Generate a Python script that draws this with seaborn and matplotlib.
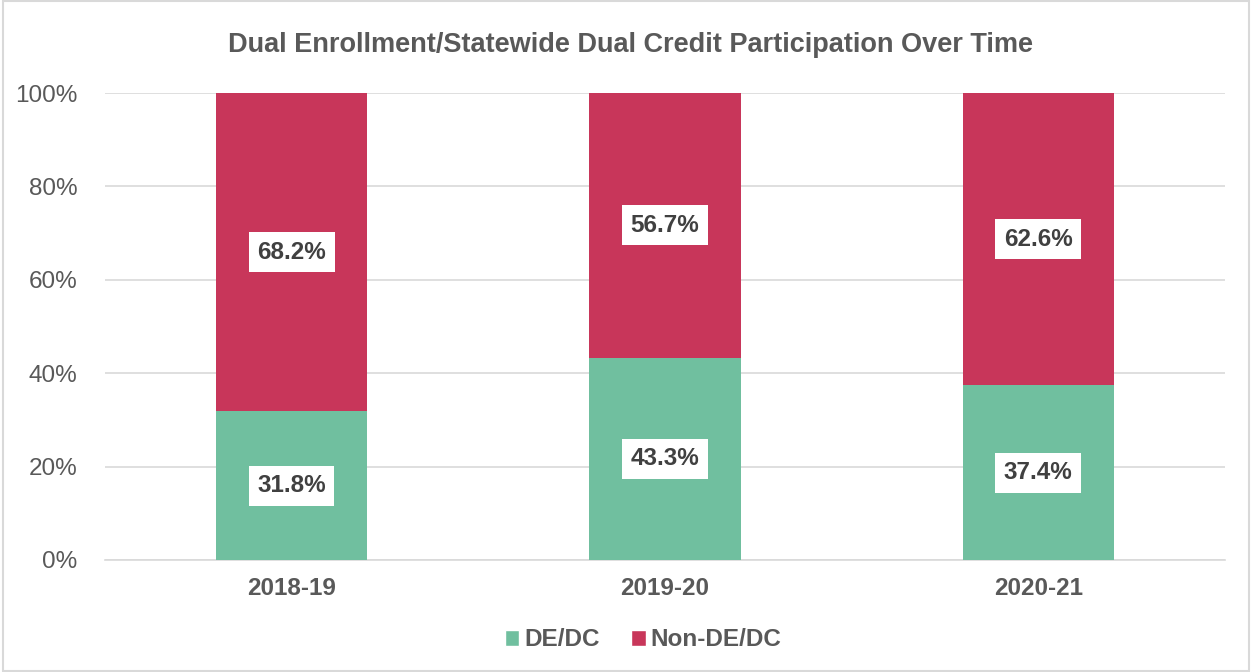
import matplotlib
matplotlib.use("Agg")
import matplotlib.pyplot as plt
import seaborn as sns
import pandas as pd
from matplotlib.patches import Patch, Rectangle

years = ["2018-19", "2019-20", "2020-21"]
de_dc = [31.8, 43.3, 37.4]
non_de_dc = [68.2, 56.7, 62.6]
series_names = ["DE/DC", "Non-DE/DC"]
y_ticks = [0, 20, 40, 60, 80, 100]

GREEN = "#70BF9F"
RED = "#C8365A"
TXT = "#595959"

sns.set_theme(style="white")
plt.rcParams['font.family'] = ['Liberation Sans', 'DejaVu Sans']

df = pd.DataFrame({"year": years, "de": de_dc, "non": non_de_dc})
df["total"] = df["de"] + df["non"]

fig = plt.figure(figsize=(12.52, 6.72), dpi=100)
ax = fig.add_axes([105/1252, 1-560/672, 1120/1252, 467/672])

sns.barplot(data=df, x="year", y="total", color=RED, width=0.405, ax=ax,
            saturation=1, zorder=3, linewidth=0)
sns.barplot(data=df, x="year", y="de", color=GREEN, width=0.405, ax=ax,
            saturation=1, zorder=3, linewidth=0)

ax.set_xlim(-0.5, 2.5)
ax.set_ylim(0, 100)
ax.set_yticks(y_ticks)
ax.set_yticklabels([f"{v}%" for v in y_ticks])
ax.yaxis.grid(True, color="#D9D9D9", linewidth=1.2, zorder=0)
ax.set_axisbelow(True)
for s in ["top", "right", "left"]:
    ax.spines[s].set_visible(False)
ax.spines["bottom"].set_color("#D9D9D9")
ax.spines["bottom"].set_linewidth(1.2)
ax.set_xlabel("")
ax.set_ylabel("")
ax.tick_params(axis="x", length=0, labelsize=17.5, colors=TXT, pad=12)
ax.tick_params(axis="y", length=0, labelsize=17.5, colors=TXT, pad=20)
for lbl in ax.get_xticklabels():
    lbl.set_fontweight("bold")

box = dict(boxstyle="square,pad=0.35", facecolor="white", edgecolor="none")
for i, (d, n) in enumerate(zip(de_dc, non_de_dc)):
    ax.text(i, d/2, f"{d}%", ha="center", va="center", fontsize=17.5,
            color="#404040", fontweight="bold", bbox=box, zorder=5)
    ax.text(i, d + n/2, f"{n}%", ha="center", va="center", fontsize=17.5,
            color="#404040", fontweight="bold", bbox=box, zorder=5)

fig.text(630/1252, 1-45/672, "Dual Enrollment/Statewide Dual Credit Participation Over Time",
         ha="center", va="center", fontsize=19.5, color=TXT, fontweight="bold")

handles = [Patch(facecolor=GREEN, label=series_names[0]),
           Patch(facecolor=RED, label=series_names[1])]
leg = fig.legend(handles=handles, loc="center", bbox_to_anchor=(643/1252, 1-640/672),
                 ncol=2, frameon=False, fontsize=17.5, handlelength=0.6, handleheight=0.6,
                 handletextpad=0.2, columnspacing=1.3)
for t in leg.get_texts():
    t.set_color(TXT)
    t.set_fontweight("bold")

fig.patches.append(Rectangle((0.002, 0.002), 0.996, 0.996, transform=fig.transFigure,
                             fill=False, edgecolor="#D9D9D9", linewidth=1.5))

fig.savefig("out.png", dpi=100)
